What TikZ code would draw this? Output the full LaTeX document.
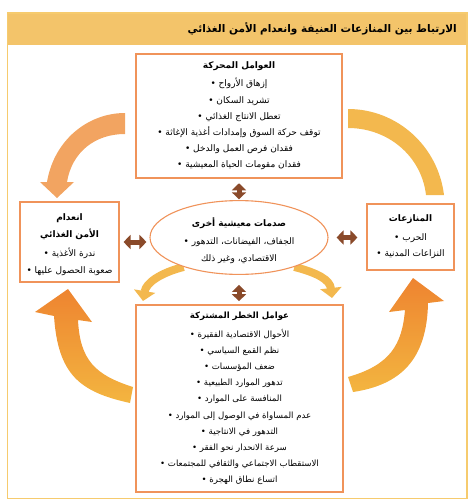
\documentclass[tikz,border=0pt]{standalone}
\usepackage{fontspec}
\usetikzlibrary{arrows.meta,shapes.geometric,calc,backgrounds}
\TeXXeTstate=1
\newfontfamily\arabicfont[Script=Arabic]{DejaVu Sans}
\definecolor{boxorange}{HTML}{F0935A}
\definecolor{framey}{HTML}{F6CB6E}
\definecolor{titleband}{HTML}{F3C46A}
\definecolor{brownarr}{HTML}{8A4A2A}
\definecolor{arrsalmon}{HTML}{F2A461}
\definecolor{arryellow}{HTML}{F3B84E}
\definecolor{arrtail}{HTML}{F3B540}
\definecolor{arrhead}{HTML}{EE8430}
\newcommand{\arR}[1]{\beginR #1\endR}
\newcommand{\arB}[1]{\textbf{\beginR #1\endR}}
\newcommand{\arI}[1]{•~\beginR #1\endR}
\tikzset{
  box/.style={draw=boxorange, line width=1.1pt, fill=white, align=center, inner sep=0pt,
    font=\arabicfont\fontsize{9}{16.2}\selectfont},
  dbl/.style={brownarr, line width=5pt, {Triangle[length=7pt,width=14pt]}-{Triangle[length=7pt,width=14pt]}},
  smallarr/.style={arryellow, line width=8pt, -{Triangle[length=10pt,width=21pt]}},
}
\begin{document}
\begin{tikzpicture}[x=1pt,y=-1pt]
\useasboundingbox (0,0) rectangle (476,503);
% frame and title band
\node[fill=titleband, inner sep=0pt, minimum width=460.5pt, minimum height=32pt, anchor=north west] (band) at (7,13) {};
\draw[framey, line width=1.3pt] (7.5,13) rectangle (467,498.5);
\node[anchor=east, inner sep=0pt, font=\arabicfont\bfseries\fontsize{10.5}{12}\selectfont] (title) at (457,29) {\arR{الارتباط بين المنازعات العنيفة وانعدام الأمن الغذائي}};

% big arrows
\fill[arrsalmon] (125,113) .. controls (88,113) and (54,140) .. (47,182) -- (40,182) -- (57,198) -- (74,182) -- (67,182) .. controls (72,152) and (95,134) .. (125,134) -- cycle;
\fill[arryellow] (348,109) .. controls (397,109) and (438,146) .. (444,195) -- (426,195) .. controls (421.5,156) and (388,128) .. (348,128) -- cycle;
\shade[top color=arrhead, bottom color=arrtail] (54,316) .. controls (58,375) and (80,392) .. (130,403) -- (133,387) .. controls (95,375) and (80,360) .. (78,320) -- (92,322) -- (68,289) -- (35,312) -- cycle;
\shade[top color=arrhead, bottom color=arrtail] (348,377) .. controls (390,365) and (402,345) .. (405,310) -- (389,312) -- (413,278) -- (444,301) -- (428,303) .. controls (427,360) and (400,385) .. (353,392) -- cycle;

% nodes
\node[box, minimum width=206pt, minimum height=124pt] (top) at (239,116) {%
\arB{العوامل المحركة}\\[2pt]
\arI{إزهاق الأرواح}\\
\arI{تشريد السكان}\\
\arI{تعطل الانتاج الغذائي}\\
\arI{توقف حركة السوق وإمدادات أغذية الإغاثة}\\
\arI{فقدان فرص العمل والدخل}\\
\arI{فقدان مقومات الحياة المعيشية}};

\node[box, minimum width=99pt, minimum height=80pt, font=\arabicfont\fontsize{9}{17.3}\selectfont] (lft) at (69.5,242) {%
\rule{0pt}{12pt}\arB{انعدام}\\
\arB{الأمن الغذائي}\\[1pt]
\arI{ندرة الأغذية}\\
\arI{صعوبة الحصول عليها}};

\node[box, minimum width=87pt, minimum height=66pt, font=\arabicfont\fontsize{9}{16.5}\selectfont] (rgt) at (410.5,237) {%
\arB{المنازعات}\\[2pt]
\arI{الحرب}\\
\arI{النزاعات المدنية}};

\node[box, ellipse, minimum width=178pt, minimum height=65pt, font=\arabicfont\fontsize{9}{17}\selectfont] (ell) at (239,237.5) {%
\rule{0pt}{15pt}\arB{صدمات معيشية أخرى}\\[1pt]
\arI{الجفاف، الفيضانات، التدهور}\\
\arR{الاقتصادي، وغير ذلك}};

\node[box, minimum width=207pt, minimum height=187pt, font=\arabicfont\fontsize{8.6}{16.2}\selectfont] (bot) at (239.5,398.5) {%
\arB{عوامل الخطر المشتركة}\\[2.5pt]
\arI{الأحوال الاقتصادية الفقيرة}\\
\arI{نظم القمع السياسي}\\
\arI{ضعف المؤسسات}\\
\arI{تدهور الموارد الطبيعية}\\
\arI{المنافسة على الموارد}\\
\arI{عدم المساواة في الوصول إلى الموارد}\\
\arI{التدهور في الانتاجية}\\
\arI{سرعة الانحدار نحو الفقر}\\
\arI{الاستقطاب الاجتماعي والثقافي للمجتمعات}\\
\arI{اتساع نطاق الهجرة}};

% small arrows from the ellipse
\coordinate (sl) at (143,301);
\coordinate (sr) at (332,298);
\begin{scope}[on background layer]
\draw[smallarr] (ell.208) .. controls (160,273) and (146,283) .. (sl);
\draw[smallarr] (ell.-28) .. controls (318,273) and (330,280) .. (sr);
\end{scope}

% double arrows
\draw[dbl, shorten <=4.7pt, shorten >=0.7pt] (top.south) -- (ell.north);
\draw[dbl, shorten <=10pt, shorten >=3.3pt] (ell.south) -- (ell.south |- bot.north);
\draw[dbl, shorten <=4pt, shorten >=3pt] (lft.east) -- (lft.east -| ell.west);
\draw[dbl, shorten <=8pt, shorten >=9pt] (ell.east) -- (ell.east -| rgt.west);
\end{tikzpicture}
\end{document}
